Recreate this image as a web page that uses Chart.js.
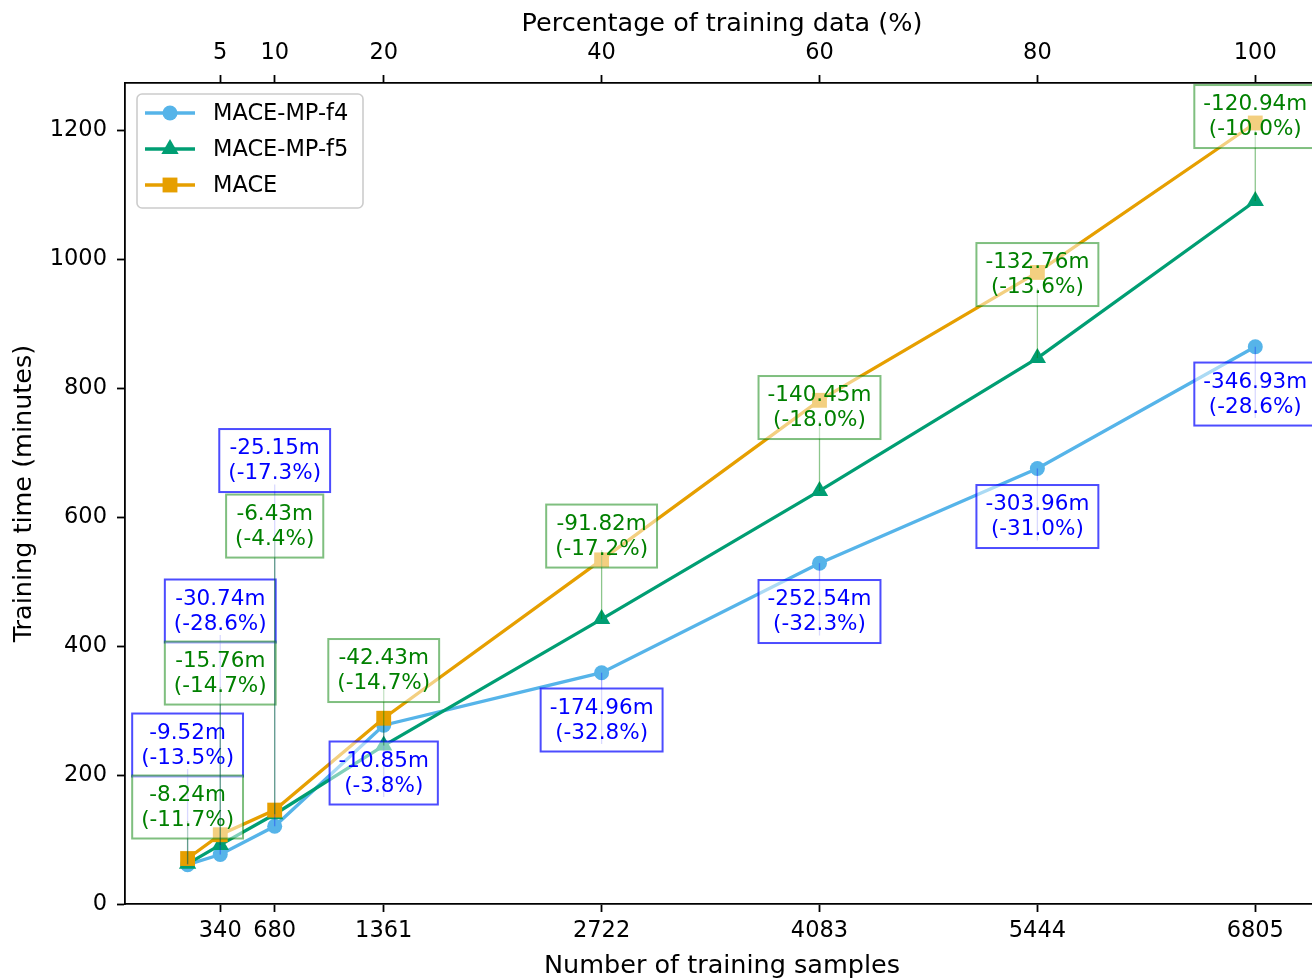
<!DOCTYPE html>
<html>
<head>
<meta charset="utf-8">
<script src="https://cdn.jsdelivr.net/npm/chart.js@4.4.0/dist/chart.umd.min.js"></script>
<style>
  html, body { margin: 0; padding: 0; background: #fff; overflow: hidden; }
  #chart { display: block; }
</style>
</head>
<body>
<canvas id="chart" width="1330" height="979"></canvas>
<script>
// training set sizes and the matching share of the full set
const samples = [136, 340, 680, 1361, 2722, 4083, 5444, 6805];
const sampleTicks = [340, 680, 1361, 2722, 4083, 5444, 6805];
const percentTicks = [5, 10, 20, 40, 60, 80, 100];

// training time in minutes
const maceTime = [70.5, 107.4, 145.6, 288.0, 533.6, 781.0, 979.3, 1211.0];
const f4Time = [60.98, 76.66, 120.45, 277.15, 358.64, 528.46, 675.34, 864.07];
const f5Time = [62.26, 91.64, 139.17, 245.57, 441.78, 640.55, 846.54, 1090.06];

// height (minutes) of the centre of each saving note
const f4NoteY = [246.5, 454.3, 687.6, 203.1, 285.3, 453.5, 600.8, 790.7];
const f5NoteY = [150.4, 358.1, 586, 362, 570.5, 769.8, 976, 1221];

const FONT = '"DejaVu Sans", sans-serif';
Chart.defaults.font.family = FONT;
Chart.defaults.color = '#000';

const pts = arr => samples.map((s, i) => ({ x: s, y: arr[i] }));

function noteLines(times, i) {
  const d = Math.round((times[i] - maceTime[i]) * 100) / 100;
  const p = d / maceTime[i] * 100;
  return [d.toFixed(2) + 'm', '(' + p.toFixed(1) + '%)'];
}

function marker(ctx, style, r, x, y) {
  ctx.beginPath();
  if (style === 'circle') {
    ctx.arc(x, y, r, 0, Math.PI * 2);
  } else if (style === 'triangle') {
    for (let k = 0; k < 3; k++) {
      const a = k * 2 * Math.PI / 3;
      const px = x + Math.sin(a) * r, py = y - Math.cos(a) * r;
      k ? ctx.lineTo(px, py) : ctx.moveTo(px, py);
    }
    ctx.closePath();
  } else {
    const h = r * Math.SQRT1_2;
    ctx.rect(x - h, y - h, 2 * h, 2 * h);
  }
  ctx.fill();
}

// boxed notes with the time saved against plain MACE
const savingNotes = {
  id: 'savingNotes',
  afterDatasetsDraw(chart) {
    const { ctx, scales: { x, y } } = chart;
    const groups = [
      { times: f4Time, at: f4NoteY, text: '#0000ff', edge: 'rgba(0,0,255,0.7)', link: 'rgba(0,0,255,0.3)', drop: 24 },
      { times: f5Time, at: f5NoteY, text: '#008000', edge: 'rgba(0,128,0,0.5)', link: 'rgba(0,128,0,0.45)', drop: 14 }
    ];
    ctx.save();
    ctx.font = '21.5px ' + FONT;
    ctx.textAlign = 'center';
    ctx.textBaseline = 'middle';
    samples.forEach((s, i) => {
      const px = x.getPixelForValue(s);
      groups.forEach(g => {
        const cy = y.getPixelForValue(g.at[i]);
        const py = y.getPixelForValue(g.times[i]);
        ctx.strokeStyle = g.link;
        ctx.lineWidth = 1.3;
        ctx.beginPath();
        ctx.moveTo(px, py);
        ctx.lineTo(px, cy + g.drop);
        ctx.stroke();

        const lines = noteLines(g.times, i);
        const w = Math.max(...lines.map(l => ctx.measureText(l).width)) + 18;
        const h = 63;
        ctx.fillStyle = 'rgba(255,255,255,0.5)';
        ctx.fillRect(px - w / 2, cy - h / 2, w, h);
        ctx.strokeStyle = g.edge;
        ctx.lineWidth = 2;
        ctx.strokeRect(px - w / 2, cy - h / 2, w, h);
        ctx.fillStyle = g.text;
        ctx.fillText(lines[0], px, cy - 12);
        ctx.fillText(lines[1], px, cy + 13);
      });
    });
    ctx.restore();
  }
};

// legend: line sample with marker, top-left corner
const seriesKey = {
  id: 'seriesKey',
  afterDraw(chart) {
    const ctx = chart.ctx;
    ctx.save();
    ctx.beginPath();
    ctx.roundRect(137, 94, 226, 114, 5);
    ctx.fillStyle = 'rgba(255,255,255,0.8)';
    ctx.fill();
    ctx.strokeStyle = '#cccccc';
    ctx.lineWidth = 1.6;
    ctx.stroke();
    ctx.font = '22.5px ' + FONT;
    ctx.textBaseline = 'middle';
    chart.data.datasets.forEach((ds, i) => {
      const cy = 113 + i * 36;
      ctx.strokeStyle = ds.borderColor;
      ctx.lineWidth = 3.3;
      ctx.beginPath();
      ctx.moveTo(145, cy);
      ctx.lineTo(195, cy);
      ctx.stroke();
      ctx.fillStyle = ds.borderColor;
      marker(ctx, ds.pointStyle, ds.pointRadius, 170, cy);
      ctx.fillStyle = '#000';
      ctx.fillText(ds.label, 213, cy + 1);
    });
    ctx.restore();
  }
};

const sampleAxisTicks = scale => { scale.ticks = sampleTicks.map(v => ({ value: v })); };
const tickGrid = { drawOnChartArea: false, drawTicks: true, tickLength: 8, tickColor: '#000', tickWidth: 1.8 };
const spine = { display: true, color: '#000', width: 1.8 };

new Chart(document.getElementById('chart'), {
  type: 'line',
  data: {
    datasets: [
      { label: 'MACE-MP-f4', data: pts(f4Time), borderColor: '#56B4E9', backgroundColor: '#56B4E9',
        pointStyle: 'circle', pointRadius: 7.5, pointBorderWidth: 0, borderWidth: 3.3, order: 3 },
      { label: 'MACE-MP-f5', data: pts(f5Time), borderColor: '#009E73', backgroundColor: '#009E73',
        pointStyle: 'triangle', pointRadius: 10, pointBorderWidth: 0, borderWidth: 3.3, order: 2 },
      { label: 'MACE', data: pts(maceTime), borderColor: '#E69F00', backgroundColor: '#E69F00',
        pointStyle: 'rect', pointRadius: 10.5, pointBorderWidth: 0, borderWidth: 3.3, order: 1 }
    ]
  },
  options: {
    responsive: false,
    animation: false,
    devicePixelRatio: 1,
    layout: { padding: { left: 0, top: 0, right: 11, bottom: 0 } },
    plugins: { legend: { display: false }, tooltip: { enabled: false } },
    scales: {
      x: {
        type: 'linear', position: 'bottom', min: -255, max: 7203,
        afterBuildTicks: sampleAxisTicks,
        afterFit: s => { s.height = 75; },
        ticks: { callback: v => String(v), font: { size: 22.5 }, color: '#000', padding: 6, maxRotation: 0, autoSkip: false },
        grid: tickGrid, border: spine,
        title: { display: true, text: 'Number of training samples', font: { size: 25.5, lineHeight: 1 }, color: '#000', padding: { top: 0, bottom: 0 } }
      },
      x2: {
        type: 'linear', position: 'top', min: -255, max: 7203,
        afterBuildTicks: sampleAxisTicks,
        afterFit: s => { s.height = 83; },
        ticks: { callback: (v, i) => String(percentTicks[i]), font: { size: 22.5 }, color: '#000', padding: 8, maxRotation: 0, autoSkip: false },
        grid: tickGrid, border: spine,
        title: { display: true, text: 'Percentage of training data (%)', font: { size: 25.5, lineHeight: 1 }, color: '#000', padding: { top: 12, bottom: 0 } }
      },
      y: {
        min: 0, max: 1273,
        afterFit: s => { s.width = 125; },
        ticks: { stepSize: 200, includeBounds: false, callback: v => String(v), font: { size: 22.5 }, color: '#000', padding: 10 },
        grid: tickGrid, border: spine,
        title: { display: true, text: 'Training time (minutes)', font: { size: 25.5, lineHeight: 1 }, color: '#000', padding: { top: 12, bottom: 0 } }
      }
    }
  },
  plugins: [savingNotes, seriesKey]
});
</script>
</body>
</html>
